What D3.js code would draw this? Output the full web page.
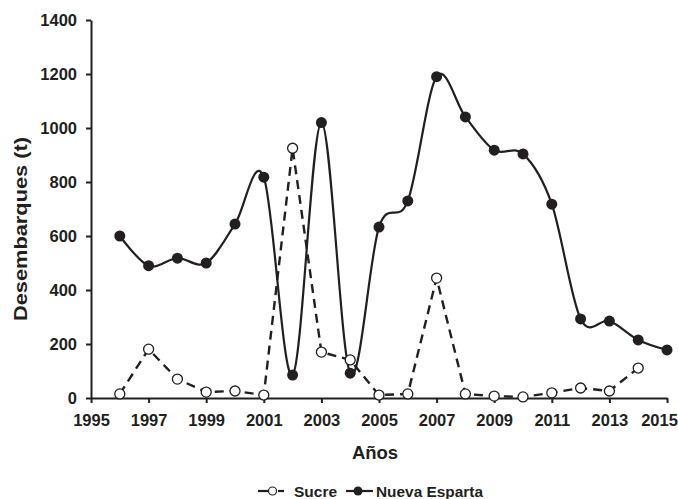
<!DOCTYPE html>
<html><head><meta charset="utf-8">
<script src="https://cdn.jsdelivr.net/npm/d3@7"></script>
<style>body{margin:0;background:#fff}text{font-family:"Liberation Sans",Arial,sans-serif;font-weight:bold;fill:#231f20}</style>
</head><body><svg id="c" width="678" height="499"></svg>
<script>
const years = d3.range(1996, 2016);
const nuevaEsparta = [600,490,518,500,644,818,85,1020,92,633,730,1190,1041,918,904,718,293,285,215,178];
const sucreYears = d3.range(1996, 2015);
const sucre = [15,181,70,22,26,11,925,170,141,11,15,444,15,7,4,19,37,26,111];
const xTicks = [1995,1997,1999,2001,2003,2005,2007,2009,2011,2013,2015];
const yTicks = [0,200,400,600,800,1000,1200,1400];

const svg = d3.select("#c");
const col = "#231f20";
const x = d3.scaleLinear().domain([1995,2015]).range([91,667]);
const y = d3.scaleLinear().domain([0,1400]).range([398,20]);

const gx = svg.append("g").attr("transform","translate(0,398)")
  .call(d3.axisBottom(x).tickValues(xTicks).tickFormat(d3.format("d")).tickSizeInner(5).tickSizeOuter(0).tickPadding(11));
const gy = svg.append("g").attr("transform","translate(91,0)")
  .call(d3.axisLeft(y).tickValues(yTicks).tickFormat(d3.format("d")).tickSizeInner(5).tickSizeOuter(0).tickPadding(9));
[gx,gy].forEach(g=>{
  g.selectAll("path,line").attr("stroke",col).attr("stroke-width",2);
  g.selectAll("text").attr("font-size",16.5).attr("font-family","Liberation Sans, Arial, sans-serif").attr("font-weight","bold").attr("fill",col);
});
gx.selectAll(".tick text").filter(d=>d===2015).attr("dx",-8);

// Sucre dashed
const lineS = d3.line().x((d,i)=>x(sucreYears[i])).y(d=>y(d));
svg.append("path").datum(sucre).attr("d",lineS).attr("fill","none").attr("stroke",col)
  .attr("stroke-width",2.4).attr("stroke-dasharray","9,6");
// Nueva Esparta smooth
const lineN = d3.line().x((d,i)=>x(years[i])).y(d=>y(d)).curve(d3.curveCardinal.tension(0));
svg.append("path").datum(nuevaEsparta).attr("d",lineN).attr("fill","none").attr("stroke",col).attr("stroke-width",2.2);

svg.append("g").selectAll("circle").data(sucre).join("circle")
  .attr("cx",(d,i)=>x(sucreYears[i])).attr("cy",d=>y(d)).attr("r",5)
  .attr("fill","#fff").attr("stroke",col).attr("stroke-width",1.3);
svg.append("g").selectAll("circle").data(nuevaEsparta).join("circle")
  .attr("cx",(d,i)=>x(years[i])).attr("cy",d=>y(d)).attr("r",5.5).attr("fill",col);

svg.append("text").attr("x",375).attr("y",459).attr("text-anchor","middle").attr("font-size",18.5).text("Años");
svg.append("text").attr("transform","translate(27,229) rotate(-90)").attr("text-anchor","middle").attr("font-size",17.5)
  .attr("textLength",184).attr("lengthAdjust","spacingAndGlyphs").text("Desembarques (t)");

// legend
const ly = 491;
svg.append("line").attr("x1",258).attr("x2",268).attr("y1",ly).attr("y2",ly).attr("stroke",col).attr("stroke-width",2.2);
svg.append("line").attr("x1",278).attr("x2",284).attr("y1",ly).attr("y2",ly).attr("stroke",col).attr("stroke-width",2.2);
svg.append("circle").attr("cx",272.5).attr("cy",ly).attr("r",4).attr("fill","#fff").attr("stroke",col).attr("stroke-width",1.2);
svg.append("text").attr("x",294).attr("y",ly+6).attr("font-size",15.5).text("Sucre");
svg.append("line").attr("x1",346).attr("x2",373).attr("y1",ly).attr("y2",ly).attr("stroke",col).attr("stroke-width",2.2);
svg.append("circle").attr("cx",358).attr("cy",ly).attr("r",4.5).attr("fill",col);
svg.append("text").attr("x",376).attr("y",ly+6).attr("font-size",15.5).attr("textLength",107).attr("lengthAdjust","spacingAndGlyphs").text("Nueva Esparta");
</script></body></html>
